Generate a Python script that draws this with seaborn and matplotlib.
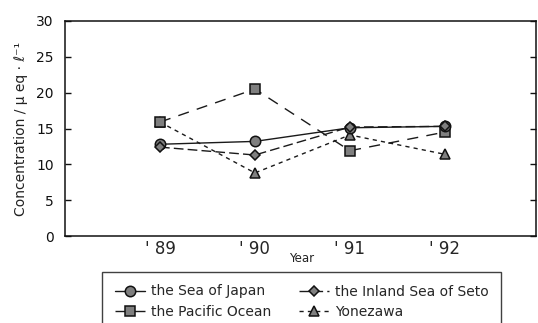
import matplotlib
matplotlib.use("Agg")
import matplotlib.pyplot as plt
import seaborn as sns
import pandas as pd

# Annual mean concentration at each site
years = [1989, 1990, 1991, 1992]
year_labels = ["' 89", "' 90", "' 91", "' 92"]
sea_of_japan = [12.8, 13.2, 15.1, 15.3]
inland_sea_seto = [12.4, 11.3, 15.2, 15.3]
pacific_ocean = [15.9, 20.5, 11.9, 14.5]
yonezawa = [15.9, 8.8, 14.1, 11.4]

# Legend reads row by row: Japan, Seto / Pacific, Yonezawa (filled column-wise)
legend_order = ["the Sea of Japan", "the Pacific Ocean",
                "the Inland Sea of Seto", "Yonezawa"]

sns.set_theme(style="ticks")
plt.rcParams["font.family"] = ["DejaVu Sans"]

fig = plt.figure(figsize=(5.38, 3.23), dpi=100)
ax = fig.add_axes([65 / 538, 87 / 323, 471 / 538, 215 / 323])

styles = {
    "Yonezawa": dict(values=yonezawa, marker="^", dashes=(3, 3), ms=6.5, z=2),
    "the Pacific Ocean": dict(values=pacific_ocean, marker="s", dashes=(8, 6), ms=7.5, z=3),
    "the Sea of Japan": dict(values=sea_of_japan, marker="o", dashes=None, ms=7.5, z=4),
    "the Inland Sea of Seto": dict(values=inland_sea_seto, marker="D", dashes=(7, 3), ms=5.5, z=5),
}

for name, st in styles.items():
    df = pd.DataFrame({"year": years, "value": st["values"]})
    kw = dict(color="#1a1a1a", linewidth=1.0, marker=st["marker"],
              markersize=st["ms"], markerfacecolor="#7f7f7f",
              markeredgecolor="#111111", markeredgewidth=1.1,
              zorder=st["z"], label=name)
    if st["dashes"] is not None:
        kw["dashes"] = st["dashes"]
    sns.lineplot(data=df, x="year", y="value", ax=ax, legend=False, **kw)

ax.set_xlim(1988, 1992.96)
ax.set_ylim(0, 30)
ax.set_yticks([0, 5, 10, 15, 20, 25, 30])
ax.set_xticks(years)
ax.set_xticklabels(year_labels, fontsize=12)
ax.tick_params(axis="x", length=0, pad=3)
ax.tick_params(axis="y", direction="in", length=4, width=1, labelsize=10,
               right=True, pad=8, colors="#111111")
for sp in ax.spines.values():
    sp.set_visible(True)
    sp.set_color("#111111")
    sp.set_linewidth(1.1)

ax.set_ylabel("Concentration / \u03bc eq \u00b7 \u2113\u207b\u00b9", fontsize=10,
              labelpad=6, color="#222222")
ax.set_xlabel("Year", fontsize=8.5, color="#222222")
ax.xaxis.set_label_coords((302 - 65) / 471, -0.075)

handles, labels = ax.get_legend_handles_labels()
order = [labels.index(n) for n in legend_order]
leg = fig.legend([handles[i] for i in order], [labels[i] for i in order],
                 loc="upper left", bbox_to_anchor=(102 / 538, 1 - 272 / 323),
                 borderaxespad=0.0,
                 ncol=2, fontsize=10, frameon=True, fancybox=False,
                 edgecolor="#111111", handlelength=2.2, handletextpad=0.4,
                 columnspacing=2.0, borderpad=0.9, labelspacing=0.45)
leg.get_frame().set_linewidth(1.0)

fig.savefig("out.png", dpi=100)
